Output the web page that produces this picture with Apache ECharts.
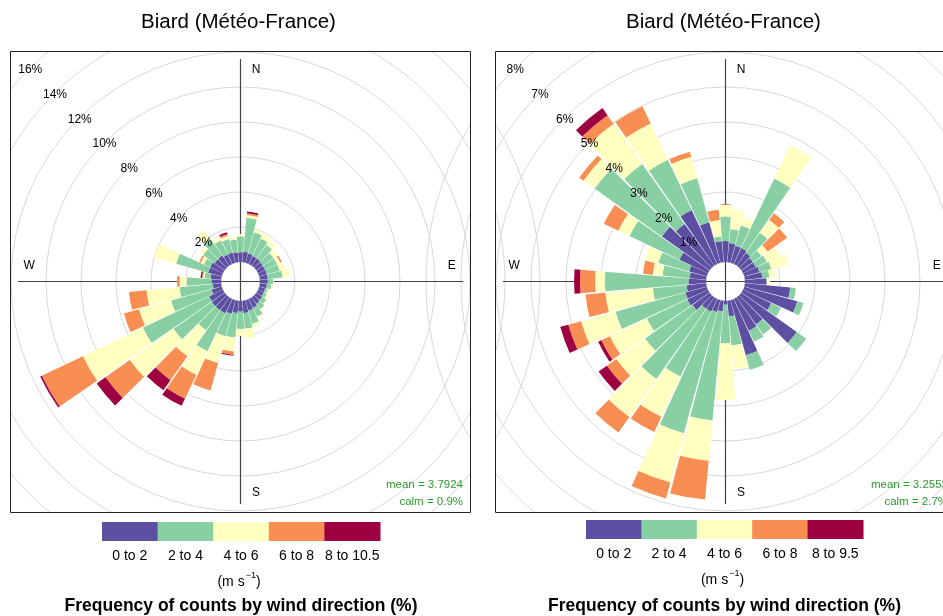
<!DOCTYPE html>
<html><head><meta charset="utf-8">
<script src="https://cdn.jsdelivr.net/npm/echarts@6/dist/echarts.min.js"></script>
<style>html,body{margin:0;padding:0;background:#fff}#c{width:943px;height:616px}</style>
</head><body><div id="c"></div>
<script>
// ---------------- data ----------------
const directions = ['0','10','20','30','40','50','60','70','80','90','100','110','120','130','140','150','160','170',
  '180','190','200','210','220','230','240','250','260','270','280','290','300','310','320','330','340','350'];
const speedBinsLeft = ['0 to 2','2 to 4','4 to 6','6 to 8','8 to 10.5'];
const speedBinsRight = ['0 to 2','2 to 4','4 to 6','6 to 8','8 to 9.5'];
const binColors = ['#5E4FA2','#88CFA4','#FFFFBF','#F98E52','#9E0142'];

// Left rose: frequency (%) per direction, per speed bin
const left_0to2 = [0.55,0.6,0.55,0.5,0.5,0.45,0.45,0.45,0.45,0.45,0.4,0.35,0.35,0.4,0.45,0.55,0.6,0.7,
  0.6,0.7,0.8,0.9,0.9,0.9,0.87,0.6,0.47,0.54,0.6,0.8,0.8,0.7,0.7,0.6,0.6,0.55];
const left_2to4 = [0.9,1.95,1.25,1.1,0.95,0.75,0.75,0.75,0.85,0.3,0.25,0.15,0.2,0.3,0.38,0.55,0.8,0.9,
  1.0,1.4,1.33,2.4,1.4,2.68,4.19,2.4,1.92,1.42,0.35,1.9,0.4,0.8,1.2,0.9,0.8,0.75];
const left_4to6 = [0.15,0.15,0.15,0.3,0.3,0.3,0.2,0.3,0.45,0.05,0.1,0.1,0.17,0.05,0.02,0.1,0.2,0.56,
  0.4,0.8,1.59,1.49,1.83,3.06,3.79,1.9,1.89,0.41,0.1,1.3,0.2,0.2,0.57,0.2,0.2,0.15];
const left_6to8 = [0,0.1,0,0,0,0,0.1,0,0,0,0,0,0,0,0,0,0,0,
  0,0.2,1.63,1.51,1.67,1.71,2.6,0.9,1.01,0.15,0.05,0,0.1,0,0,0,0.1,0];
const left_8to10 = [0,0.1,0,0,0,0,0,0,0,0,0,0,0,0,0,0,0,0,
  0,0.05,0,0.45,0.7,0.61,0.1,0,0,0,0.08,0,0,0,0,0,0.1,0];

// Right rose
const right_0to2 = [0.6,0.55,0.5,0.5,0.45,0.4,0.4,0.45,0.5,0.62,1.3,1.57,0.89,1.94,0.95,1.0,1.63,0.45,
  0.1,0.3,0.35,0.4,0.4,0.6,0.65,0.63,0.56,0.5,0.47,0.52,0.9,1.67,1.46,1.7,1.2,0.6];
const right_2to4 = [0.7,0.4,0.6,2.2,0.7,0.3,0.35,0.35,0.2,0,0.16,0.18,0.31,0.33,0.35,0.35,0.43,0.83,
  1.11,3.13,3.59,2.05,2.46,1.66,1.28,2.07,0.97,2.39,0.78,0.91,1.58,2.36,2.1,1.59,1.3,0.14];
const right_4to6 = [0.35,0.55,0.25,1.06,0.45,0.22,0.4,0.51,0.18,0.1,0,0,0,0,0,0,0,0.67,
  1.62,1.16,1.46,1.27,1.33,1.01,1.17,1.02,1.36,0.28,0.28,0.4,0.35,0.39,1.41,1.15,0.64,0.47];
const right_6to8 = [0,0,0,0,0.23,0.68,0,0,0,0,0,0,0,0,0,0,0,0,
  0,1.11,0.47,0.48,0.54,0.33,0.27,0.38,0.57,0.43,0.28,0,0.46,0.15,0.3,0.54,0.15,0.29];
const right_8to10 = [0,0,0,0,0,0,0,0,0,0,0,0,0,0,0,0,0,0,
  0,0,0,0,0,0.29,0.1,0.24,0,0.17,0,0,0,0,0.25,0,0,0];

const titleText = 'Biard (Météo-France)';
const statsLeft = ['mean = 3.7924', 'calm = 0.9%'];
const statsRight = ['mean = 3.2553', 'calm = 2.7%'];
const gridLeft = {max: 16, step: 2};
const gridRight = {max: 8, step: 1};

// ---------------- layout ----------------
const FONT = '"Liberation Sans", Arial, Helvetica, sans-serif';
const panels = [
  {cx: 240.5, cy: 281.5, boxX: 10, legX: 102, legY: 522, legW: 278, series: [left_0to2,left_2to4,left_4to6,left_6to8,left_8to10], bins: speedBinsLeft, grid: gridLeft, stats: statsLeft},
  {cx: 725.5, cy: 281.5, boxX: 495, legX: 586, legY: 520, legW: 277, series: [right_0to2,right_2to4,right_4to6,right_6to8,right_8to10], bins: speedBinsRight, grid: gridRight, stats: statsRight}
];
const BOX_Y = 51, BOX_W = 461, BOX_H = 462;
const R0 = 19.5, RSTEP = 35, UPPER = 222.5;

const polar = [], angleAxis = [], radiusAxis = [], series = [], graphic = [];

panels.forEach((p, k) => {
  const outer = R0 + RSTEP * p.grid.max / p.grid.step;
  const base = polar.length;
  // 0: bars + grid circles
  polar.push({center: [p.cx, p.cy], radius: [R0, outer]});
  angleAxis.push({polarIndex: base, type: 'category', data: directions, startAngle: 95, clockwise: true,
    axisLine: {show: false}, axisTick: {show: false}, axisLabel: {show: false}, splitLine: {show: false}});
  radiusAxis.push({polarIndex: base, type: 'value', min: 0, max: p.grid.max, interval: p.grid.step,
    axisLine: {show: false}, axisTick: {show: false}, axisLabel: {show: false},
    splitLine: {show: true, lineStyle: {color: '#d9d9d9', width: 1}}});
  // 1: percentage labels along NW diagonal (drawn above bars)
  polar.push({center: [p.cx, p.cy], radius: [R0, outer]});
  angleAxis.push({polarIndex: base + 1, type: 'value', min: 0, max: 360, startAngle: 135, show: false});
  radiusAxis.push({polarIndex: base + 1, type: 'value', min: 0, max: p.grid.max, interval: p.grid.step, z: 10,
    axisLine: {show: false}, axisTick: {show: false}, splitLine: {show: false},
    axisLabel: {show: true, margin: 0, rotate: 0, align: 'center', verticalAlign: 'middle',
      padding: [9, 0, 0, 3], fontSize: 12, color: '#000', fontFamily: FONT,
      formatter: v => (v === 0 ? '' : v + '%')}});
  // 2: cross lines
  polar.push({center: [p.cx, p.cy], radius: [0, UPPER]});
  angleAxis.push({polarIndex: base + 2, type: 'value', min: 0, max: 360, interval: 90, startAngle: 90,
    axisLine: {show: false}, axisTick: {show: false}, axisLabel: {show: false},
    splitLine: {show: true, lineStyle: {color: '#444', width: 1.2}}});
  radiusAxis.push({polarIndex: base + 2, type: 'value', min: 0, max: 1, show: false});

  p.series.forEach((vals, j) => {
    series.push({type: 'bar', coordinateSystem: 'polar', polarIndex: base, stack: 'rose' + k,
      name: p.bins[j], data: vals, barCategoryGap: '7%', itemStyle: {color: binColors[j]},
      silent: true, animation: false});
  });

  // compass letters
  const letters = [['N', 0.07, -0.95], ['S', 0.07, 0.95], ['W', -0.95, -0.07], ['E', 0.95, -0.07]];
  letters.forEach(([t, fx, fy]) => graphic.push({type: 'text', z: 20, style: {text: t, x: p.cx + fx * UPPER, y: p.cy + fy * UPPER,
    fill: '#000', fontSize: 12, fontFamily: FONT, align: 'center', verticalAlign: 'middle', textAlign: 'center', textVerticalAlign: 'middle'}}));
  // stats
  p.stats.forEach((t, i) => graphic.push({type: 'text', z: 20, style: {text: t, x: p.boxX + BOX_W - 8, y: 485 + i * 17,
    fill: '#2E9A2E', fontSize: 11.5, fontFamily: FONT, align: 'right', verticalAlign: 'middle', textAlign: 'right', textVerticalAlign: 'middle'}}));
});

// masks outside the panels
const masks = [[0, 0, 943, BOX_Y], [0, BOX_Y + BOX_H, 943, 616 - BOX_Y - BOX_H], [0, 0, 10, 616], [471, 0, 24, 616]];
masks.forEach(([x, y, w, h]) => graphic.push({type: 'rect', z: 100, silent: true, shape: {x, y, width: w, height: h}, style: {fill: '#fff'}}));

panels.forEach((p) => {
  const mid = p.boxX + BOX_W / 2;
  graphic.push({type: 'rect', z: 110, shape: {x: p.boxX + 0.5, y: BOX_Y + 0.5, width: BOX_W - 1, height: BOX_H - 1},
    style: {fill: null, stroke: '#222', lineWidth: 1}});
  graphic.push({type: 'text', z: 110, style: {text: titleText, x: mid - 2, y: 22, fill: '#000', fontSize: 20.5, fontFamily: FONT,
    align: 'center', verticalAlign: 'middle', textAlign: 'center', textVerticalAlign: 'middle'}});
  const w = p.legW / binColors.length;
  binColors.forEach((c, j) => {
    graphic.push({type: 'rect', z: 110, shape: {x: p.legX + j * w, y: p.legY, width: w + 0.5, height: 19}, style: {fill: c}});
    graphic.push({type: 'text', z: 110, style: {text: p.bins[j], x: p.legX + (j + 0.5) * w, y: p.legY + 34, fill: '#000', fontSize: 14,
      fontFamily: FONT, align: 'center', verticalAlign: 'middle', textAlign: 'center', textVerticalAlign: 'middle'}});
  });
  const lc = p.legX + p.legW / 2;
  graphic.push({type: 'text', z: 110, style: {text: '{a|(m s}{b|−1}{a|)}', x: lc - 2, y: p.legY + 58,
    align: 'center', verticalAlign: 'middle', textAlign: 'center', textVerticalAlign: 'middle',
    rich: {a: {fontSize: 14, fontFamily: FONT, fill: '#000', color: '#000', lineHeight: 18, verticalAlign: 'bottom'},
           b: {fontSize: 9, fontFamily: FONT, fill: '#000', color: '#000', lineHeight: 18, verticalAlign: 'top', padding: [0, 0, 0, 1]}}}});
  graphic.push({type: 'text', z: 110, style: {text: 'Frequency of counts by wind direction (%)', x: lc, y: 606, fill: '#000',
    fontSize: 17.5, fontWeight: 'bold', fontFamily: FONT, align: 'center', verticalAlign: 'middle', textAlign: 'center', textVerticalAlign: 'middle'}});
});

const chart = echarts.init(document.getElementById('c'), null, {renderer: 'canvas'});
chart.setOption({
  animation: false,
  backgroundColor: '#fff',
  textStyle: {fontFamily: FONT},
  polar, angleAxis, radiusAxis, series, graphic
});
</script></body></html>
